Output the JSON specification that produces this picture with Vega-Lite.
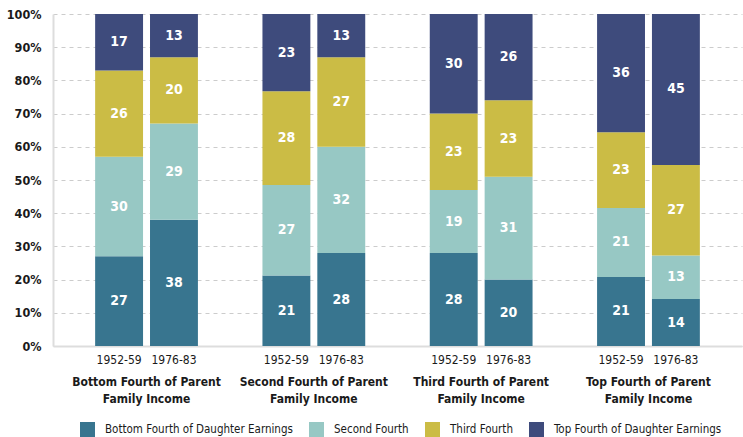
{
  "$schema": "https://vega.github.io/schema/vega-lite/v6.json",
  "width": 689,
  "height": 332,
  "autosize": "none",
  "padding": {"left": 53, "top": 14, "right": 1, "bottom": 91},
  "background": "white",
  "config": {"view": {"stroke": null}, "font": "DejaVu Sans Condensed, sans-serif"},
  "data": {"values": [
    {"group": "Bottom Fourth of Parent Family Income", "period": "1952-59", "category": "Bottom Fourth of Daughter Earnings", "value": 27},
    {"group": "Bottom Fourth of Parent Family Income", "period": "1952-59", "category": "Second Fourth", "value": 30},
    {"group": "Bottom Fourth of Parent Family Income", "period": "1952-59", "category": "Third Fourth", "value": 26},
    {"group": "Bottom Fourth of Parent Family Income", "period": "1952-59", "category": "Top Fourth of Daughter Earnings", "value": 17},
    {"group": "Bottom Fourth of Parent Family Income", "period": "1976-83", "category": "Bottom Fourth of Daughter Earnings", "value": 38},
    {"group": "Bottom Fourth of Parent Family Income", "period": "1976-83", "category": "Second Fourth", "value": 29},
    {"group": "Bottom Fourth of Parent Family Income", "period": "1976-83", "category": "Third Fourth", "value": 20},
    {"group": "Bottom Fourth of Parent Family Income", "period": "1976-83", "category": "Top Fourth of Daughter Earnings", "value": 13},
    {"group": "Second Fourth of Parent Family Income", "period": "1952-59", "category": "Bottom Fourth of Daughter Earnings", "value": 21},
    {"group": "Second Fourth of Parent Family Income", "period": "1952-59", "category": "Second Fourth", "value": 27},
    {"group": "Second Fourth of Parent Family Income", "period": "1952-59", "category": "Third Fourth", "value": 28},
    {"group": "Second Fourth of Parent Family Income", "period": "1952-59", "category": "Top Fourth of Daughter Earnings", "value": 23},
    {"group": "Second Fourth of Parent Family Income", "period": "1976-83", "category": "Bottom Fourth of Daughter Earnings", "value": 28},
    {"group": "Second Fourth of Parent Family Income", "period": "1976-83", "category": "Second Fourth", "value": 32},
    {"group": "Second Fourth of Parent Family Income", "period": "1976-83", "category": "Third Fourth", "value": 27},
    {"group": "Second Fourth of Parent Family Income", "period": "1976-83", "category": "Top Fourth of Daughter Earnings", "value": 13},
    {"group": "Third Fourth of Parent Family Income", "period": "1952-59", "category": "Bottom Fourth of Daughter Earnings", "value": 28},
    {"group": "Third Fourth of Parent Family Income", "period": "1952-59", "category": "Second Fourth", "value": 19},
    {"group": "Third Fourth of Parent Family Income", "period": "1952-59", "category": "Third Fourth", "value": 23},
    {"group": "Third Fourth of Parent Family Income", "period": "1952-59", "category": "Top Fourth of Daughter Earnings", "value": 30},
    {"group": "Third Fourth of Parent Family Income", "period": "1976-83", "category": "Bottom Fourth of Daughter Earnings", "value": 20},
    {"group": "Third Fourth of Parent Family Income", "period": "1976-83", "category": "Second Fourth", "value": 31},
    {"group": "Third Fourth of Parent Family Income", "period": "1976-83", "category": "Third Fourth", "value": 23},
    {"group": "Third Fourth of Parent Family Income", "period": "1976-83", "category": "Top Fourth of Daughter Earnings", "value": 26},
    {"group": "Top Fourth of Parent Family Income", "period": "1952-59", "category": "Bottom Fourth of Daughter Earnings", "value": 21},
    {"group": "Top Fourth of Parent Family Income", "period": "1952-59", "category": "Second Fourth", "value": 21},
    {"group": "Top Fourth of Parent Family Income", "period": "1952-59", "category": "Third Fourth", "value": 23},
    {"group": "Top Fourth of Parent Family Income", "period": "1952-59", "category": "Top Fourth of Daughter Earnings", "value": 36},
    {"group": "Top Fourth of Parent Family Income", "period": "1976-83", "category": "Bottom Fourth of Daughter Earnings", "value": 14},
    {"group": "Top Fourth of Parent Family Income", "period": "1976-83", "category": "Second Fourth", "value": 13},
    {"group": "Top Fourth of Parent Family Income", "period": "1976-83", "category": "Third Fourth", "value": 27},
    {"group": "Top Fourth of Parent Family Income", "period": "1976-83", "category": "Top Fourth of Daughter Earnings", "value": 45}
  ]},
  "transform": [
    {"stack": "value", "groupby": ["group", "period"], "sort": [{"field": "category", "order": "ascending"}], "offset": "normalize", "as": ["y0", "y1"]},
    {"calculate": "(datum.y0 + datum.y1) / 2", "as": "ymid"}
  ],
  "encoding": {
    "x": {
      "field": "group", "type": "nominal",
      "sort": ["Bottom Fourth of Parent Family Income", "Second Fourth of Parent Family Income", "Third Fourth of Parent Family Income", "Top Fourth of Parent Family Income"],
      "scale": {"paddingInner": 0, "paddingOuter": 0.059},
      "axis": {
        "title": null, "ticks": false, "labelAngle": 0, "labelPadding": 30,
        "labelFontSize": 12, "labelFontWeight": "bold", "labelColor": "#1a1a1a", "labelBaseline": "top", "labelLineHeight": 17,
        "labelExpr": "[replace(datum.label, ' Family Income', ''), 'Family Income']",
        "domainColor": "#dddddd", "domainWidth": 2, "grid": false
      }
    },
    "xOffset": {"field": "period", "type": "nominal", "scale": {"paddingInner": 0.127, "paddingOuter": 0.588}}
  },
  "layer": [
    {
      "mark": {"type": "bar"},
      "encoding": {
        "y": {
          "field": "y0", "type": "quantitative", "scale": {"domain": [0, 1]},
          "axis": {
            "title": null, "format": ".0%", "values": [0, 0.1, 0.2, 0.3, 0.4, 0.5, 0.6, 0.7, 0.8, 0.9, 1],
            "labelOverlap": false,
            "ticks": false, "labelPadding": 12, "labelFontSize": 12.5, "labelFontWeight": "bold", "labelColor": "#1a1a1a",
            "domainColor": "#dddddd", "domainWidth": 2,
            "gridColor": "#cccccc", "gridDash": [4, 4], "gridWidth": 1
          }
        },
        "y2": {"field": "y1"},
        "color": {
          "field": "category", "type": "nominal",
          "scale": {
            "domain": ["Bottom Fourth of Daughter Earnings", "Second Fourth", "Third Fourth", "Top Fourth of Daughter Earnings"],
            "range": ["#38758f", "#97c8c4", "#cbbc45", "#3e4b7c"]
          },
          "legend": {
            "title": null, "orient": "none", "direction": "horizontal", "legendX": 27, "legendY": 408,
            "symbolType": "square", "symbolSize": 225, "symbolStrokeWidth": 0, "symbolOpacity": 1,
            "labelFontSize": 11.5, "labelColor": "#1a1a1a", "labelOffset": 10, "columnPadding": 16, "labelLimit": 400
          }
        }
      }
    },
    {
      "mark": {"type": "text", "color": "white", "fontWeight": "bold", "fontSize": 14, "baseline": "middle"},
      "encoding": {
        "y": {
          "field": "ymid", "type": "quantitative",
          "axis": {
            "title": null, "format": ".0%", "values": [0, 0.1, 0.2, 0.3, 0.4, 0.5, 0.6, 0.7, 0.8, 0.9, 1],
            "labelOverlap": false,
            "ticks": false, "labelPadding": 12, "labelFontSize": 12.5, "labelFontWeight": "bold", "labelColor": "#1a1a1a",
            "domainColor": "#dddddd", "domainWidth": 2,
            "gridColor": "#cccccc", "gridDash": [4, 4], "gridWidth": 1
          }
        },
        "text": {"field": "value", "type": "quantitative"}
      }
    },
    {
      "transform": [{"filter": "datum.category == 'Third Fourth'"}],
      "mark": {"type": "text", "color": "#1a1a1a", "fontSize": 12, "baseline": "middle", "dy": 14},
      "encoding": {
        "y": {
          "datum": 0,
          "axis": {
            "title": null, "format": ".0%", "values": [0, 0.1, 0.2, 0.3, 0.4, 0.5, 0.6, 0.7, 0.8, 0.9, 1],
            "labelOverlap": false,
            "ticks": false, "labelPadding": 12, "labelFontSize": 12.5, "labelFontWeight": "bold", "labelColor": "#1a1a1a",
            "domainColor": "#dddddd", "domainWidth": 2,
            "gridColor": "#cccccc", "gridDash": [4, 4], "gridWidth": 1
          }
        },
        "text": {"field": "period", "type": "nominal"}
      }
    }
  ]
}
